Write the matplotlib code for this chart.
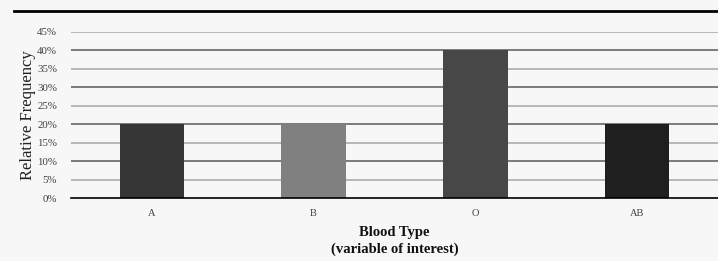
import matplotlib.pyplot as plt
from matplotlib.lines import Line2D

# blood type data
blood_types = ['A', 'B', 'O', 'AB']
rel_freq = [0.20, 0.20, 0.40, 0.20]
bar_colors = ['#363636', '#808080', '#474747', '#1f1f1f']
y_ticks = [0, 0.05, 0.10, 0.15, 0.20, 0.25, 0.30, 0.35, 0.40, 0.45]
y_labels = ['0%', '5%', '10%', '15%', '20%', '25%', '30%', '35%', '40%', '45%']

plt.rcParams['font.family'] = ['Liberation Serif', 'DejaVu Serif']

fig = plt.figure(figsize=(7.18, 2.61), dpi=100, facecolor='#f7f7f7')
ax = fig.add_axes([71/718, 1 - 198/261, 1 - 71/718, (198 - 32)/261])
ax.set_facecolor('#f7f7f7')

# gridlines alternate light / dark like the original
for i, t in enumerate(y_ticks[1:]):
    col = '#a6a6a6' if i % 2 == 0 else '#5a5a5a'
    ax.axhline(t, color=col, linewidth=1.1, zorder=0)

x = range(len(blood_types))
ax.bar(x, rel_freq, width=0.4, color=bar_colors, zorder=2)

ax.set_xlim(-0.5, 3.5)
ax.set_ylim(0, 0.45)
ax.set_yticks(y_ticks)
ax.set_yticklabels(y_labels, fontsize=7.8, color='#404040')
ax.set_xticks(list(x))
ax.set_xticklabels(blood_types, fontsize=7.5, color='#404040')
ax.tick_params(length=0, pad=8)
ax.tick_params(axis='y', pad=10)
for s in ['top', 'right', 'left']:
    ax.spines[s].set_visible(False)
ax.spines['bottom'].set_color('black')
ax.spines['bottom'].set_linewidth(1.2)

ax.set_ylabel('Relative Frequency', fontsize=12, color='#222222', labelpad=1)
ax.set_xlabel('Blood Type\n(variable of interest)', fontsize=10.5,
              fontweight='bold', color='#111111', labelpad=6, linespacing=1.3)

# black rule across the top
fig.add_artist(Line2D([14/718, 1], [1 - 11/261, 1 - 11/261], color='black',
                      linewidth=2, transform=fig.transFigure))

fig.savefig('out.png', dpi=100, facecolor=fig.get_facecolor())
